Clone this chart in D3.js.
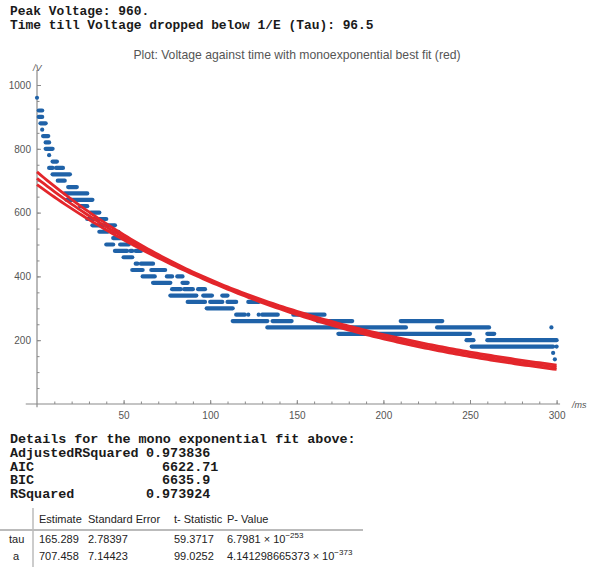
<!DOCTYPE html>
<html>
<head>
<meta charset="utf-8">
<script src="https://d3js.org/d3.v7.min.js"></script>
<style>
  body { margin: 0; background: #fff; }
  svg { display: block; }
</style>
</head>
<body>
<svg id="chart" width="590" height="567"></svg>
<script>
// header lines
var headerLines = ["Peak Voltage: 960.", "Time till Voltage dropped below 1/E (Tau): 96.5"];
var plotTitle = "Plot: Voltage against time with monoexponential best fit (red)";

// measured voltage, read as runs of equal samples: [t start, t end, voltage]
var runs = [
  [0, 0, 960], [1, 3, 920], [1, 3, 900], [2, 5, 880], [3, 3, 860], [3.5, 6.5, 840],
  [5, 7, 820], [5, 9, 800], [7, 7, 780], [9, 11.5, 760], [7, 9, 740], [11, 15, 740],
  [9, 19, 720], [12, 16, 700], [18, 23, 680], [16, 29, 660], [17, 32, 640], [25, 29, 620],
  [31, 36, 600], [29, 40, 580], [32, 45, 560], [36, 41, 540], [44, 47, 540], [44, 52, 520],
  [40, 44, 500], [48, 53, 500], [45, 52, 480], [54, 55, 480], [57, 60, 480], [50, 55, 460],
  [57, 58, 440], [60, 67, 440], [55, 61, 420], [66, 74, 420], [61, 68, 400], [75, 78, 400],
  [81, 84, 400], [67, 77, 380], [84, 87, 380], [78, 83, 360], [85, 90, 360], [93, 97, 360],
  [77, 92, 340], [96, 101, 340], [107, 110, 340], [87, 97, 320], [100, 107, 320], [110, 115, 320],
  [122, 128, 320], [98, 113, 300], [115, 120, 280], [122, 122, 280], [128, 128, 280],
  [130, 139, 280], [148, 166, 280], [113, 133, 260], [136, 147, 260], [162, 182, 260],
  [210, 234, 260], [133, 213, 240], [231, 261, 240], [297, 297, 240], [174, 250, 220],
  [260, 264, 220], [248, 252, 200], [260, 300, 200], [251, 298, 180], [300, 300, 180],
  [298, 298, 160], [299, 299, 140]
];

// fit parameters
var fitA = 707.458, fitTau = 165.289;
var seA = 7.14423, seTau = 2.78397;

// tick labels
var xTicks = [50, 100, 150, 200, 250, 300];
var yTicks = [200, 400, 600, 800, 1000];

// fit summary
var statNames = ["AdjustedRSquared", "AIC", "BIC", "RSquared"];
var statValues = ["0.973836", "6622.71", "6635.9", "0.973924"];
var tableHead = ["Estimate", "Standard Error", "t- Statistic", "P- Value"];
var tableRows = ["tau", "a"];
var tableCells = [
  ["165.289", "2.78397", "59.3717", ["6.7981", "\u2212253"]],
  ["707.458", "7.14423", "99.0252", ["4.141298665373", "\u2212373"]]
];

var svg = d3.select("#chart");
var mono = "'Liberation Mono', 'DejaVu Sans Mono', monospace";
var sans = "'Liberation Sans', Arial, sans-serif";

svg.selectAll("text.head")
  .data(headerLines)
  .enter().append("text")
  .attr("class", "head")
  .attr("x", 10)
  .attr("y", function(d, i){ return 15 + i * 14; })
  .attr("font-family", mono)
  .attr("font-weight", "bold")
  .attr("font-size", 12.9)
  .attr("fill", "#1a1a1a")
  .attr("xml:space", "preserve")
  .text(function(d){ return d; });

svg.append("text")
  .attr("x", 297).attr("y", 59)
  .attr("text-anchor", "middle")
  .attr("font-family", sans)
  .attr("font-size", 12.2)
  .attr("fill", "#555")
  .text(plotTitle);

var x = d3.scaleLinear().domain([0, 300]).range([37, 556.6]);
var y = d3.scaleLinear().domain([0, 1000]).range([404, 85]);

var axisColor = "#8a8a8a";

// minor ticks
svg.append("g")
  .attr("transform", "translate(0," + y(0) + ")")
  .call(d3.axisBottom(x).tickValues(d3.range(10, 301, 10)).tickSize(-2.5).tickFormat(""))
  .call(function(g){ g.select(".domain").remove(); g.selectAll("line").attr("stroke", axisColor); });
svg.append("g")
  .attr("transform", "translate(" + x(0) + ",0)")
  .call(d3.axisLeft(y).tickValues(d3.range(50, 1001, 50)).tickSize(-2.5).tickFormat(""))
  .call(function(g){ g.select(".domain").remove(); g.selectAll("line").attr("stroke", axisColor); });

// major ticks and labels
var xAxis = svg.append("g")
  .attr("transform", "translate(0," + y(0) + ")")
  .call(d3.axisBottom(x).tickValues(xTicks).tickSize(-4).tickPadding(8).tickFormat(d3.format("d")));
var yAxis = svg.append("g")
  .attr("transform", "translate(" + x(0) + ",0)")
  .call(d3.axisLeft(y).tickValues(yTicks).tickSize(-4).tickPadding(6).tickFormat(d3.format("d")));

[xAxis, yAxis].forEach(function(g){
  g.select(".domain").remove();
  g.selectAll("line").attr("stroke", axisColor);
  g.selectAll("text").attr("font-family", sans).attr("font-size", 10).attr("fill", "#555");
});

// axis lines
svg.append("line")
  .attr("x1", x(-6.5)).attr("x2", x(302))
  .attr("y1", y(0)).attr("y2", y(0))
  .attr("stroke", axisColor).attr("stroke-width", 1.2);
svg.append("line")
  .attr("x1", x(0)).attr("x2", x(0))
  .attr("y1", y(-10)).attr("y2", y(1047))
  .attr("stroke", axisColor).attr("stroke-width", 1.2);

svg.append("text")
  .attr("x", x(0) - 4).attr("y", y(1047) + 1)
  .attr("font-family", sans).attr("font-size", 9).attr("font-style", "italic")
  .attr("fill", "#555")
  .text("/V");
svg.append("text")
  .attr("x", 572).attr("y", y(0) + 4)
  .attr("font-family", sans).attr("font-size", 9).attr("font-style", "italic")
  .attr("fill", "#555")
  .text("/ms");

// data
svg.append("g")
  .selectAll("line")
  .data(runs)
  .enter().append("line")
  .attr("x1", function(d){ return x(d[0]); })
  .attr("x2", function(d){ return x(d[1]); })
  .attr("y1", function(d){ return y(d[2]); })
  .attr("y2", function(d){ return y(d[2]); })
  .attr("stroke", "#1f62a8")
  .attr("stroke-width", 4.2)
  .attr("stroke-linecap", "round");

// fit and confidence band
var fitT = d3.range(0, 300.5, 2);
function fitV(t){ return fitA * Math.exp(-t / fitTau); }
function band(t){
  var ga = Math.exp(-t / fitTau);
  var gt = fitA * t / (fitTau * fitTau) * ga;
  var v = ga * ga * seA * seA + gt * gt * seTau * seTau - 2 * 0.95 * ga * gt * seA * seTau;
  return 2.8 * Math.sqrt(Math.max(v, 0));
}
var fitLine = d3.line().x(function(t){ return x(t); });
[-1, 0, 1].forEach(function(s){
  svg.append("path")
    .datum(fitT)
    .attr("d", fitLine.y(function(t){ return y(fitV(t) + s * band(t)); }))
    .attr("fill", "none")
    .attr("stroke", "#e3262b")
    .attr("stroke-width", 2.8);
});

// fit details
svg.append("text")
  .attr("x", 10).attr("y", 443)
  .attr("font-family", mono).attr("font-weight", "bold").attr("font-size", 13.4)
  .attr("fill", "#1a1a1a")
  .text("Details for the mono exponential fit above:");

var stats = svg.append("g").selectAll("g")
  .data(statNames)
  .enter().append("g");
stats.append("text")
  .attr("x", 10)
  .attr("y", function(d, i){ return 457 + i * 13.6; })
  .attr("font-family", mono).attr("font-weight", "bold").attr("font-size", 13.4)
  .attr("fill", "#1a1a1a")
  .text(function(d){ return d; });
stats.append("text")
  .attr("x", function(d, i){ return statValues[i].length === 8 ? 146 : 162; })
  .attr("y", function(d, i){ return 457 + i * 13.6; })
  .attr("font-family", mono).attr("font-weight", "bold").attr("font-size", 13.4)
  .attr("fill", "#1a1a1a")
  .text(function(d, i){ return statValues[i]; });

// parameter table
var colX = [39, 88, 174, 227];
var tfont = "'Liberation Sans', Arial, sans-serif";
svg.append("line").attr("x1", 33).attr("x2", 33).attr("y1", 508).attr("y2", 567)
  .attr("stroke", "#bbb").attr("stroke-width", 1.5);
svg.append("line").attr("x1", 0).attr("x2", 363).attr("y1", 530).attr("y2", 530)
  .attr("stroke", "#bbb").attr("stroke-width", 2);

svg.selectAll("text.th")
  .data(tableHead)
  .enter().append("text")
  .attr("class", "th")
  .attr("x", function(d, i){ return colX[i]; })
  .attr("y", 523)
  .attr("font-family", tfont).attr("font-size", 11).attr("fill", "#222")
  .text(function(d){ return d; });

tableRows.forEach(function(name, r){
  var yy = 543 + r * 17;
  svg.append("text").attr("x", r === 0 ? 9 : 13).attr("y", yy)
    .attr("font-family", tfont).attr("font-size", 11).attr("fill", "#222")
    .text(name);
  tableCells[r].forEach(function(c, i){
    var t = svg.append("text").attr("x", colX[i]).attr("y", yy)
      .attr("font-family", tfont).attr("font-size", 11).attr("fill", "#222");
    if (typeof c === "string") {
      t.text(c);
    } else {
      t.append("tspan").text(c[0] + " \u00d7 10");
      t.append("tspan").attr("dy", -5).attr("font-size", 8).text(c[1]);
    }
  });
});
</script>
</body>
</html>
